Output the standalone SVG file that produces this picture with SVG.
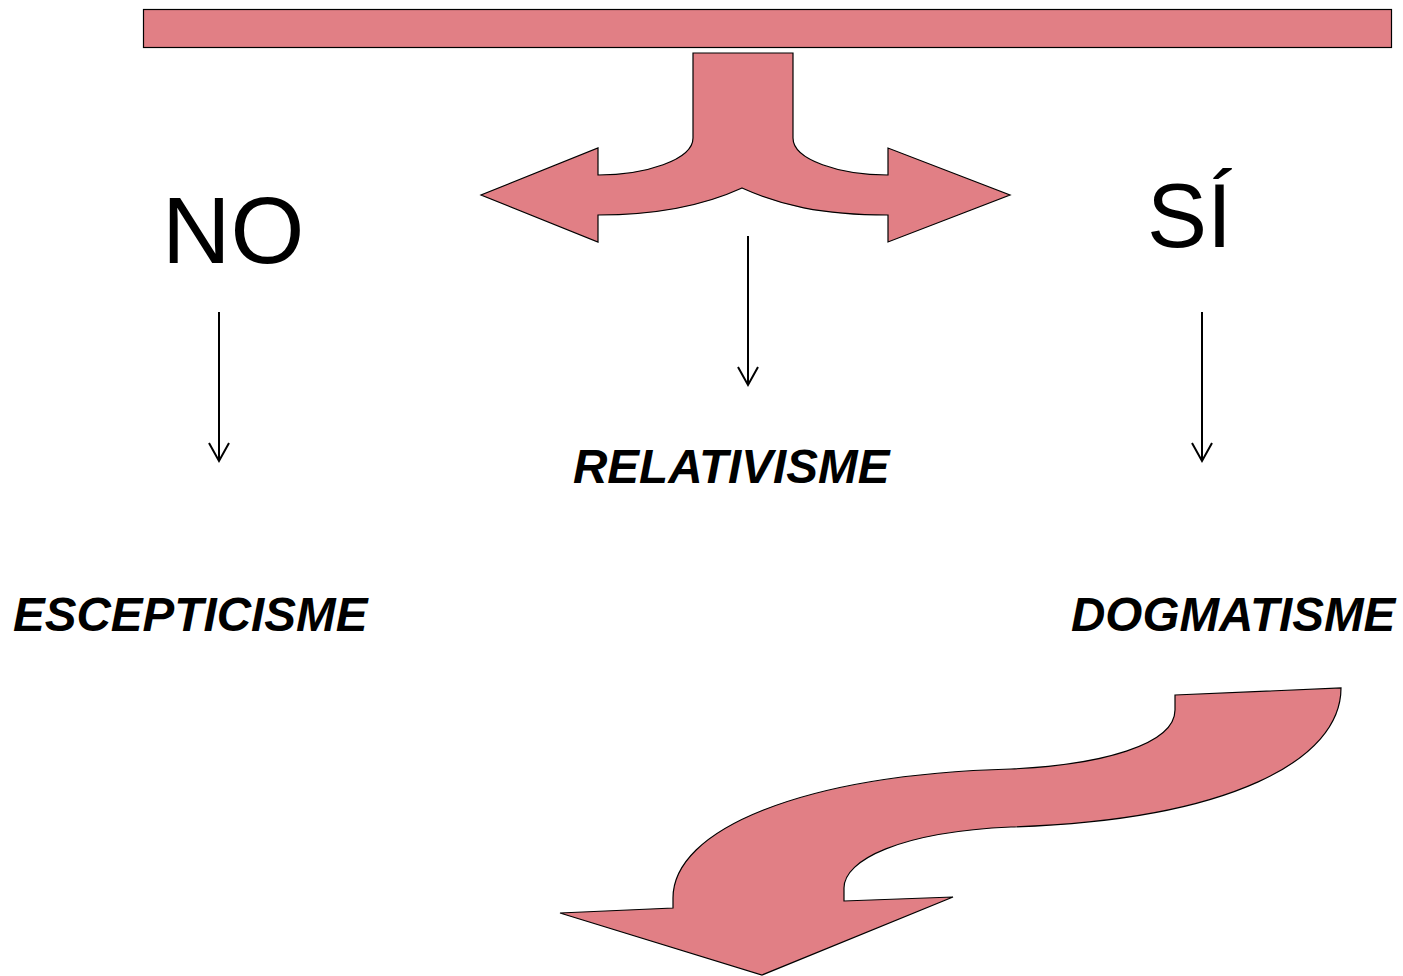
<svg xmlns="http://www.w3.org/2000/svg" width="1403" height="976" viewBox="0 0 1403 976">
<style>
.shape{fill:#E17F85;stroke:#000;stroke-width:1.2;stroke-linejoin:miter}
.big{font-family:"Liberation Sans",Arial,sans-serif;fill:#000}
.lbl{font-family:"Liberation Sans",Arial,sans-serif;font-weight:bold;font-style:italic;font-size:47.6px;fill:#000}
.conn{stroke:#000;stroke-width:2;fill:none}
</style>
<rect width="1403" height="976" fill="#fff"/>
<g id="top-bar">
<rect class="shape" x="143.5" y="9.5" width="1248" height="38" stroke-width="1.5"/>
</g>
<g id="fork-arrow">
<path class="shape" d="M693,53 L793,53 L793,138 C793,160 840,175 888,175 L888,148 L1010,195 L888,242 L888,215 C820,215 780,205 742,188 C705,205 660,215 598,215 L598,242 L481,195 L598,148 L598,175 C645,175 693,160 693,138 Z"/>
</g>
<g id="curved-arrow">
<path class="shape" d="M1175,695 L1341,688 C1341,760 1230,820 1011,827 C900,832 844,860 844,888 L844,901 L953,897 L762,975 L560,913 L673,908 L673,898 C673,830 800,775 1011,769 C1100,765 1175,745 1175,710 Z"/>
</g>
<g id="no">
<text class="big" x="162" y="263" font-size="95">NO</text>
</g>
<g id="si">
<text class="big" x="1147" y="247" font-size="90">SÍ</text>
</g>
<g id="relativisme">
<text class="lbl" x="573" y="483">RELATIVISME</text>
</g>
<g id="escepticisme">
<text class="lbl" x="13" y="631">ESCEPTICISME</text>
</g>
<g id="dogmatisme">
<text class="lbl" x="1071" y="631">DOGMATISME</text>
</g>
<g id="connectors">
<line class="conn" x1="219" y1="312" x2="219" y2="461"/>
<polyline class="conn" points="209,443 219,461 229,443"/>
<line class="conn" x1="748" y1="236" x2="748" y2="385"/>
<polyline class="conn" points="738,367 748,385 758,367"/>
<line class="conn" x1="1202" y1="312" x2="1202" y2="461"/>
<polyline class="conn" points="1192,443 1202,461 1212,443"/>
</g>
</svg>
